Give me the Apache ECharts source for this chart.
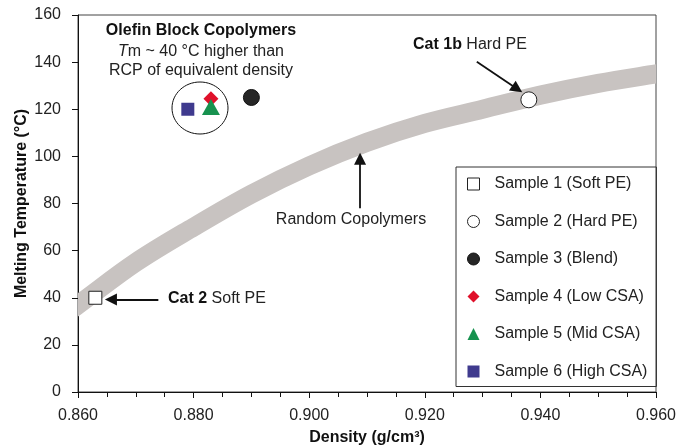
<!DOCTYPE html>
<html>
<head>
	<meta charset="utf-8">
	<script type="text/javascript" src="https://cdn.jsdelivr.net/npm/echarts@6/dist/echarts.min.js"></script>
</head>
<body style="margin:0">
	<div id="main" style="width:676px;height:448px;"></div>
	<script type="text/javascript">
		var font = '"Liberation Sans", Arial, sans-serif';

		// samples
		var sampleNames = ['Sample 1 (Soft PE)', 'Sample 2 (Hard PE)', 'Sample 3 (Blend)',
			'Sample 4 (Low CSA)', 'Sample 5 (Mid CSA)', 'Sample 6 (High CSA)'];
		var sampleDensity = [0.863, 0.938, 0.890, 0.883, 0.883, 0.879];
		var sampleTm = [40, 124, 125, 124.5, 121, 120];

		// random copolymer band (centre line)
		var bandDensity = [0.856, 0.860, 0.870, 0.880, 0.890, 0.900, 0.910, 0.920, 0.930, 0.940, 0.950, 0.960, 0.964];
		var bandTm = [30, 37, 55, 70, 84, 96, 106, 114, 120, 126, 131, 135, 136.5];

		// annotation arrows: [from, to]
		var arrowCat1b = [[0.9290, 140.2], [0.9360, 128.6]];
		var arrowCat2 = [[0.8739, 39.3], [0.8657, 39.3]];
		var arrowRandom = [[0.9088, 78], [0.9088, 99]];

		var styles = [
			{ symbol: 'rect', size: 13, item: { color: '#fff', borderColor: '#222', borderWidth: 1 } },
			{ symbol: 'circle', size: 16, item: { color: '#fff', borderColor: '#222', borderWidth: 1 } },
			{ symbol: 'circle', size: 16, item: { color: '#262626', borderColor: '#111', borderWidth: 1 } },
			{ symbol: 'diamond', size: 15, item: { color: '#e0102a' } },
			{ symbol: 'triangle', size: [18, 16], item: { color: '#17924f' } },
			{ symbol: 'rect', size: 13, item: { color: '#3f3a8e' } }
		];

		var chart = echarts.init(document.getElementById('main'));

		var series = [];
		series.push({
			type: 'custom',
			silent: true,
			clip: true,
			z: 1,
			data: [[0.91, 106]],
			renderItem: function (params, api) {
				var pts = [];
				for (var i = 0; i < bandDensity.length; i++) {
					pts.push(api.coord([bandDensity[i], bandTm[i]]));
				}
				return {
					type: 'polyline',
					shape: { points: pts, smooth: 0.35 },
					style: { stroke: '#c8c3c1', lineWidth: 19, fill: null }
				};
			}
		});

		for (var i = 0; i < sampleNames.length; i++) {
			styles[i].item.opacity = 1;
			series.push({
				type: 'scatter',
				name: sampleNames[i],
				data: [[sampleDensity[i], sampleTm[i]]],
				symbol: styles[i].symbol,
				symbolSize: styles[i].size,
				itemStyle: styles[i].item,
				z: 3 + i
			});
		}

		series.push({
			type: 'scatter',
			name: 'arrows',
			data: [],
			silent: true,
			markLine: {
				silent: true,
				animation: false,
				symbol: ['none', 'triangle'],
				symbolSize: 12,
				label: { show: false },
				lineStyle: { color: '#111', width: 1.8, type: 'solid', opacity: 1 },
				emphasis: { disabled: true },
				data: [
					[{ coord: arrowCat1b[0] }, { coord: arrowCat1b[1] }],
					[{ coord: arrowCat2[0] }, { coord: arrowCat2[1] }],
					[{ coord: arrowRandom[0] }, { coord: arrowRandom[1] }]
				]
			}
		});

		chart.setOption({
			animation: false,
			textStyle: { fontFamily: font },
			grid: { left: 78, right: 20, top: 15, bottom: 56, show: true, borderColor: '#444', borderWidth: 1, outerBoundsMode: 'none' },
			legend: {
				data: sampleNames,
				orient: 'vertical',
				left: 456,
				top: 167,
				padding: [9, 9, 7, 11],
				itemWidth: 12,
				itemHeight: 12,
				itemGap: 21.5,
				borderColor: '#333',
				borderWidth: 1,
				selectedMode: false,
				itemStyle: { borderWidth: 1, opacity: 1 },
				textStyle: { fontSize: 16, color: '#222', fontFamily: font, padding: [0, 0, 0, 10] }
			},
			xAxis: {
				type: 'value',
				min: 0.86,
				max: 0.96,
				interval: 0.02,
				name: 'Density (g/cm³)',
				nameLocation: 'middle',
				nameGap: 38,
				nameMoveOverlap: false,
				nameTextStyle: { fontSize: 16, fontWeight: 'bold', color: '#111', fontFamily: font },
				axisLine: { lineStyle: { color: '#111', width: 1 } },
				axisTick: { inside: false, length: 6, lineStyle: { color: '#111' } },
				minorTick: { show: true, splitNumber: 4, length: 5, lineStyle: { color: '#111' } },
				axisLabel: { margin: 16, fontSize: 16, color: '#222', fontFamily: font,
					formatter: function (v) { return v.toFixed(3); } },
				splitLine: { show: false }
			},
			yAxis: {
				type: 'value',
				min: 0,
				max: 160,
				interval: 20,
				name: 'Melting Temperature (°C)',
				nameLocation: 'middle',
				nameGap: 48,
				nameMoveOverlap: false,
				nameTextStyle: { fontSize: 16, fontWeight: 'bold', color: '#111', fontFamily: font },
				axisLine: { show: true, lineStyle: { color: '#111', width: 1 } },
				axisTick: { show: true, inside: false, length: 6, lineStyle: { color: '#111' } },
				axisLabel: { margin: 17, fontSize: 16, color: '#222', fontFamily: font },
				splitLine: { show: false }
			},
			graphic: [
				{ type: 'ellipse', shape: { cx: 200, cy: 108, rx: 28, ry: 26 }, style: { fill: null, stroke: '#111', lineWidth: 1 }, z: 10 },
				{ type: 'text', x: 201, y: 31, z: 10, style: { text: 'Olefin Block Copolymers', fontSize: 16, fontWeight: 'bold', fontFamily: font, fill: '#111', align: 'center', verticalAlign: 'middle' } },
				{ type: 'text', x: 201, y: 52, z: 10, style: { text: '{i|T}m ~ 40 °C higher than', fontSize: 16, fontFamily: font, fill: '#222', align: 'center', verticalAlign: 'middle', rich: { i: { fontStyle: 'italic', fontSize: 16, fontFamily: font } } } },
				{ type: 'text', x: 201, y: 71, z: 10, style: { text: 'RCP of equivalent density', fontSize: 16, fontFamily: font, fill: '#222', align: 'center', verticalAlign: 'middle' } },
				{ type: 'text', x: 413, y: 45, z: 10, style: { text: '{b|Cat 1b} Hard PE', fontSize: 16, fontFamily: font, fill: '#222', align: 'left', verticalAlign: 'middle', rich: { b: { fontWeight: 'bold', fontSize: 16, fontFamily: font, fill: '#111' } } } },
				{ type: 'text', x: 168, y: 299, z: 10, style: { text: '{b|Cat 2} Soft PE', fontSize: 16, fontFamily: font, fill: '#222', align: 'left', verticalAlign: 'middle', rich: { b: { fontWeight: 'bold', fontSize: 16, fontFamily: font, fill: '#111' } } } },
				{ type: 'text', x: 351, y: 220, z: 10, style: { text: 'Random Copolymers', fontSize: 16, fontFamily: font, fill: '#222', align: 'center', verticalAlign: 'middle' } }
			],
			series: series
		});
	</script>
</body>
</html>
